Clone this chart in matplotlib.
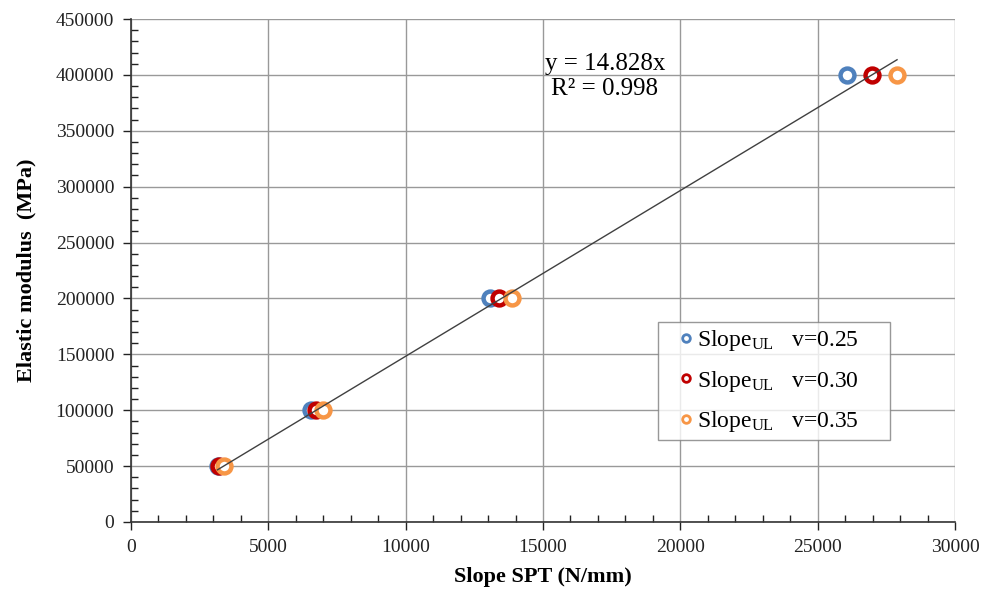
import matplotlib
matplotlib.use("Agg")
import matplotlib.pyplot as plt
from matplotlib.ticker import MultipleLocator
import numpy as np

plt.rcParams['font.family'] = ['Liberation Serif', 'DejaVu Serif']
plt.rcParams['mathtext.fontset'] = 'custom'
plt.rcParams['mathtext.rm'] = 'Liberation Serif'
plt.rcParams['mathtext.it'] = 'Liberation Serif:italic'

# Elastic modulus (MPa) and measured SPT slopes (N/mm) for each Poisson ratio
modulus = [50000, 100000, 200000, 400000]
slope_v025 = [3150, 6550, 13080, 26070]
slope_v030 = [3200, 6750, 13400, 26980]
slope_v035 = [3380, 7000, 13870, 27890]
series_labels = ["0.25", "0.30", "0.35"]
series_colors = ["#4F81BD", "#C00000", "#F79646"]

fit_slope = 14.828
fit_r2 = 0.998

fig = plt.figure(figsize=(9.89, 5.99), dpi=100)
ax = fig.add_axes([131 / 989, 77 / 599, 824 / 989, 503 / 599])

for xs, lab, col in zip([slope_v025, slope_v030, slope_v035], series_labels, series_colors):
    ax.plot(xs, modulus, linestyle='none', marker='o', markersize=10,
            markerfacecolor='white', markeredgecolor=col, markeredgewidth=3.2,
            label=r"Slope$_{\mathrm{UL}}$   v=" + lab + "     ", zorder=3)

all_x = np.array(slope_v025 + slope_v030 + slope_v035)
xfit = np.array([all_x.min(), all_x.max()])
ax.plot(xfit, fit_slope * xfit, color='#404040', linewidth=1.0, zorder=4)

ax.text(17250, 410000, f"y = {fit_slope}x", ha='center', va='center', fontsize=18)
ax.text(17250, 387500, f"R² = {fit_r2}", ha='center', va='center', fontsize=18)

ax.set_xlim(0, 30000)
ax.set_ylim(0, 450000)
ax.xaxis.set_major_locator(MultipleLocator(5000))
ax.xaxis.set_minor_locator(MultipleLocator(1000))
ax.yaxis.set_major_locator(MultipleLocator(50000))
ax.yaxis.set_minor_locator(MultipleLocator(10000))

ax.grid(True, which='major', color='#999999', linewidth=1.0)
ax.set_axisbelow(True)
for s in ['top', 'right']:
    ax.spines[s].set_visible(False)
for s in ['left', 'bottom']:
    ax.spines[s].set_color('#333333')
    ax.spines[s].set_linewidth(1.2)

ax.tick_params(which='major', direction='out', length=6, width=1, labelsize=14,
               colors='#222222', pad=6)
ax.tick_params(which='minor', direction='in', length=5, width=1, colors='#222222')

ax.set_xlabel("Slope SPT (N/mm)", fontsize=16, fontweight='bold', labelpad=8)
ax.set_ylabel("Elastic modulus  (MPa)", fontsize=16, fontweight='bold', labelpad=14)

leg = ax.legend(loc='upper left', bbox_to_anchor=((658 - 131) / 824, (522 - 322) / 503),
                fontsize=17, frameon=True, fancybox=False, edgecolor='#7f7f7f',
                handletextpad=-0.45, borderpad=0.27, labelspacing=0.65,
                markerscale=0.55, handlelength=1.85, borderaxespad=0)
leg.get_frame().set_linewidth(1.0)
for h in leg.legend_handles:
    h.set_markeredgewidth(2)

fig.savefig("out.png", dpi=100)
